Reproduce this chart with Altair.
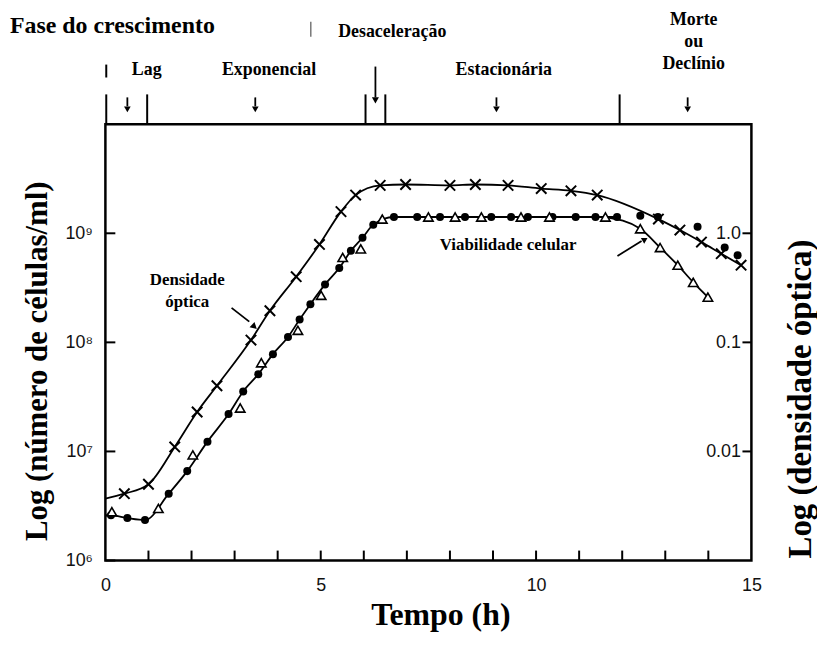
import altair as alt
import pandas as pd

# ---------------- data ----------------
# Optical density (x markers), OD units (right axis)
od_h = [0.44, 1.00, 1.61, 2.13, 2.59, 3.38, 3.82, 4.43, 4.97, 5.47, 5.81, 6.38,
        6.97, 8.00, 8.59, 9.35, 10.12, 10.81, 11.42, 12.84, 13.34, 13.84, 14.30, 14.76]
od_v = [0.0041, 0.0050, 0.011, 0.023, 0.040, 0.105, 0.195, 0.40, 0.79, 1.58, 2.24, 2.75,
        2.80, 2.75, 2.80, 2.75, 2.57, 2.45, 2.24, 1.35, 1.07, 0.83, 0.65, 0.51]
od_start_h = [0.0]
od_start_v = [0.0037]

# Total cell count (filled circles), cells/ml
tot_h = [0.13, 0.51, 0.92, 1.47, 1.90, 2.37, 2.86, 3.20, 3.55, 3.89, 4.24, 4.51, 4.76,
         5.10, 5.43, 5.70, 5.97, 6.22, 6.70, 7.24, 7.77, 8.35, 8.96, 9.42, 9.81, 10.38,
         10.92, 11.38, 11.88, 12.42, 12.83, 13.75, 14.38, 14.68]
tot_v = [2.6e6, 2.45e6, 2.35e6, 4.1e6, 6.6e6, 1.23e7, 2.2e7, 3.55e7, 5.1e7, 7.8e7, 1.12e8,
         1.62e8, 2.24e8, 3.4e8, 4.8e8, 6.9e8, 9.1e8, 1.2e9, 1.41e9, 1.41e9, 1.41e9, 1.41e9,
         1.41e9, 1.41e9, 1.41e9, 1.41e9, 1.41e9, 1.41e9, 1.41e9, 1.45e9, 1.41e9, 1.15e9,
         7.4e8, 6.3e8]
tot_start_h = [0.0]
tot_start_v = [2.6e6]

# Viable cell count (open triangles), cells/ml
via_h = [0.15, 1.23, 2.03, 3.13, 3.62, 4.47, 5.01, 5.51, 5.93, 6.43, 7.50, 8.12, 8.73,
         9.65, 10.31, 11.61, 12.42, 12.88, 13.29, 13.65, 13.99]
via_v = [2.8e6, 3.0e6, 9.3e6, 2.5e7, 6.5e7, 1.29e8, 2.7e8, 6.0e8, 7.2e8, 1.35e9, 1.41e9,
         1.41e9, 1.41e9, 1.41e9, 1.41e9, 1.41e9, 1.1e9, 7.4e8, 5.1e8, 3.55e8, 2.6e8]

# axis ticks
x_labels = [0, 5, 10, 15]
x_minor = list(range(1, 15))
left_ticks = [1e6, 1e7, 1e8, 1e9]
right_ticks = [0.01, 0.1, 1.0]

# growth-phase header
phase_bounds = [0.02, 0.97, 6.04, 6.50, 11.94]
phase_arrows = [0.51, 3.48, 9.08, 13.52]
decel_arrow = [6.27]
phase_names = ["Lag", "Exponencial", "Estacionária"]
phase_centers = [0.96, 3.80, 9.25]
decel_name = ["Desaceleração"]
decel_center = [6.66]
death_name = ["Morte\nou\nDeclínio"]
death_center = [13.66]
stray_marks_a = [0.02]
stray_marks_b = [4.77]

# annotations inside the plot
ann_text = ["Densidade", "óptica", "Viabilidade celular"]
ann_h = [1.90, 1.90, 9.35]
ann_v = [3.36e8, 2.12e8, 7.0e8]
od_arrow = {"h": [2.93], "h2": [3.34], "v": [2.07e8], "v2": [1.55e8]}
od_arrow_head = {"h": [3.46], "v": [1.39e8]}
via_arrow = {"h": [11.89], "h2": [12.45], "v": [6.2e8], "v2": [8.5e8]}
via_arrow_head = {"h": [12.53], "v": [8.8e8]}

# ---------------- chart ----------------
W, H = 650, 439
SERIF = "Liberation Serif"
SANS = "Liberation Sans, DejaVu Sans"
INK = "#111111"

xs = alt.Scale(domain=[0, 15], nice=False, zero=False)
ys_count = alt.Scale(type="log", domain=[1e6, 1e10], nice=False)
ys_od = alt.Scale(type="log", domain=[1e-3, 10], nice=False)

axX = alt.Axis(values=x_labels, format="d", labelFlush=False, ticks=False, tickSize=0,
               domain=False, grid=False, labelFont=SANS, labelFontSize=18,
               labelPadding=16, labelColor=INK, title="Tempo (h)", titleFont=SERIF,
               titleFontSize=32, titleFontWeight="bold", titleColor="black",
               titleX=337, titleY=64, titleAlign="center", titleBaseline="alphabetic")

axL = alt.Axis(values=left_ticks,
               labelExpr="round(log(datum.value)/LN10) == 6 ? '10⁶' : "
                         "round(log(datum.value)/LN10) == 7 ? '10⁷' : "
                         "round(log(datum.value)/LN10) == 8 ? '10⁸' : '10⁹'",
               ticks=False, tickSize=0, domain=False, grid=False, labelFont=SANS,
               labelFontSize=18, labelPadding=13, labelColor=INK,
               title="Log (número de células/ml)", titleFont=SERIF, titleFontSize=31,
               titleFontWeight="bold", titleColor="black", titleAngle=270,
               titleX=-59, titleY=238, titleAlign="center", titleBaseline="alphabetic")

axR = alt.Axis(orient="right", values=right_ticks,
               labelExpr="datum.value >= 0.5 ? '1.0' : datum.value >= 0.05 ? '0.1' : '0.01'",
               ticks=False, tickSize=0, domain=False, grid=False, labelFont=SANS,
               labelFontSize=18, labelPadding=-11, labelAlign="right", labelColor=INK,
               title="Log (densidade óptica)", titleFont=SERIF, titleFontSize=33,
               titleFontWeight="bold", titleColor="black", titleAngle=270,
               titleX=59, titleY=276, titleAlign="center", titleBaseline="alphabetic")

X = alt.X("h:Q", scale=xs, axis=axX)
Yc = alt.Y("v:Q", scale=ys_count, axis=axL)
Yo = alt.Y("v:Q", scale=ys_od, axis=axR)

df_od = pd.DataFrame({"h": od_h, "v": od_v})
df_od_line = pd.DataFrame({"h": od_start_h + od_h, "v": od_start_v + od_v})
df_tot = pd.DataFrame({"h": tot_h, "v": tot_v})
df_tot_line = pd.DataFrame({"h": tot_start_h + tot_h, "v": tot_start_v + tot_v})
df_via = pd.DataFrame({"h": via_h, "v": via_v})

line_style = dict(interpolate="monotone", color="black", strokeWidth=1.8)

tot_line = alt.Chart(df_tot_line).transform_filter("datum.h <= 12").mark_line(**line_style).encode(x=X, y=Yc)
via_line = alt.Chart(df_via).transform_filter("datum.h >= 11.5").mark_line(**line_style).encode(x=X, y=Yc)
tot_pts = alt.Chart(df_tot).mark_point(shape="circle", filled=True, color="black", size=65,
                                       opacity=1).encode(x=X, y=Yc)
via_pts = alt.Chart(df_via).mark_point(shape="triangle-up", filled=True, fill="white",
                                       stroke="black", strokeWidth=1.6, size=90,
                                       opacity=1).encode(x=X, y=Yc)

left_tick_rules = alt.Chart(pd.DataFrame({"v": left_ticks})).mark_rule(
    color="black", strokeWidth=2).encode(y=Yc, x=alt.value(0), x2=alt.value(10))
bottom_tick_rules = alt.Chart(pd.DataFrame({"h": x_minor})).mark_rule(
    color="black", strokeWidth=2).encode(x=X, y=alt.value(H), y2=alt.value(H - 10))

# header
bounds = alt.Chart(pd.DataFrame({"h": phase_bounds})).mark_rule(
    color="black", strokeWidth=2).encode(x=X, y=alt.value(-30), y2=alt.value(0))
stray_a = alt.Chart(pd.DataFrame({"h": stray_marks_a})).mark_rule(
    color="black", strokeWidth=2).encode(x=X, y=alt.value(-60), y2=alt.value(-47))
stray_b = alt.Chart(pd.DataFrame({"h": stray_marks_b})).mark_rule(
    color="#555555", strokeWidth=1.2).encode(x=X, y=alt.value(-103), y2=alt.value(-88))
arrow_shafts = alt.Chart(pd.DataFrame({"h": phase_arrows})).mark_rule(
    color="black", strokeWidth=1.8).encode(x=X, y=alt.value(-27), y2=alt.value(-18))
arrow_heads = alt.Chart(pd.DataFrame({"h": phase_arrows})).mark_point(
    shape="triangle-down", filled=True, color="black", size=45, opacity=1).encode(
    x=X, y=alt.value(-15))
decel_shaft = alt.Chart(pd.DataFrame({"h": decel_arrow})).mark_rule(
    color="black", strokeWidth=1.8).encode(x=X, y=alt.value(-58), y2=alt.value(-27))
decel_head = alt.Chart(pd.DataFrame({"h": decel_arrow})).mark_point(
    shape="triangle-down", filled=True, color="black", size=50, opacity=1).encode(
    x=X, y=alt.value(-24))

hdr_font = dict(font=SERIF, fontWeight="bold", fontSize=18, color="black",
                align="center", baseline="alphabetic")
phase_txt = alt.Chart(pd.DataFrame({"h": phase_centers, "t": phase_names})).mark_text(
    **hdr_font).encode(x=X, y=alt.value(-50), text="t:N")
decel_txt = alt.Chart(pd.DataFrame({"h": decel_center, "t": decel_name})).mark_text(
    **hdr_font).encode(x=X, y=alt.value(-88), text="t:N")
death_txt = alt.Chart(pd.DataFrame({"h": death_center, "t": death_name})).mark_text(
    lineBreak="\n", lineHeight=22, **hdr_font).encode(x=X, y=alt.value(-100), text="t:N")
fase_txt = alt.Chart(pd.DataFrame({"t": ["Fase do crescimento"]})).mark_text(
    font=SERIF, fontWeight="bold", fontSize=24, color="black", align="left",
    baseline="alphabetic").encode(x=alt.value(-96), y=alt.value(-92), text="t:N")

# annotations
ann_font = dict(hdr_font, fontSize=17)
ann = alt.Chart(pd.DataFrame({"h": ann_h, "v": ann_v, "t": ann_text})).mark_text(
    **ann_font).encode(x=X, y=Yc, text="t:N")
odarr = alt.Chart(pd.DataFrame(od_arrow)).mark_rule(color="black", strokeWidth=1.8).encode(
    x=X, x2="h2:Q", y=Yc, y2="v2:Q")
odarr_head = alt.Chart(pd.DataFrame(od_arrow_head)).mark_point(
    shape="triangle-right", filled=True, color="black", size=55, angle=42, opacity=1).encode(
    x=X, y=Yc)
viaarr = alt.Chart(pd.DataFrame(via_arrow)).mark_rule(color="black", strokeWidth=1.8).encode(
    x=X, x2="h2:Q", y=Yc, y2="v2:Q")
viaarr_head = alt.Chart(pd.DataFrame(via_arrow_head)).mark_point(
    shape="triangle-right", filled=True, color="black", size=45, angle=330, opacity=1).encode(
    x=X, y=Yc)

count_group = alt.layer(
    tot_line, via_line, tot_pts, via_pts, left_tick_rules, bottom_tick_rules,
    bounds, stray_a, stray_b, arrow_shafts, arrow_heads, decel_shaft, decel_head,
    phase_txt, decel_txt, death_txt, fase_txt, ann, odarr, odarr_head, viaarr, viaarr_head,
)

od_line = alt.Chart(df_od_line).mark_line(**line_style).encode(x=X, y=Yo)
od_pts = alt.Chart(df_od).mark_point(shape="M-1,-1L1,1M1,-1L-1,1", filled=False,
                                     stroke="black", strokeWidth=2, size=110,
                                     opacity=1).encode(x=X, y=Yo)
right_tick_rules = alt.Chart(pd.DataFrame({"v": right_ticks})).mark_rule(
    color="black", strokeWidth=2).encode(y=Yo, x=alt.value(W - 9), x2=alt.value(W))

od_group = alt.layer(od_line, od_pts, right_tick_rules)

chart = alt.layer(count_group, od_group).resolve_scale(y="independent").properties(
    width=W, height=H,
    autosize=alt.AutoSizeParams(type="none"),
    padding={"left": 98, "top": 115, "right": 66, "bottom": 71},
    background="white",
).configure_view(stroke="black", strokeWidth=2.5)

chart.save("out.html", embed_options={"renderer": "svg", "actions": False})
